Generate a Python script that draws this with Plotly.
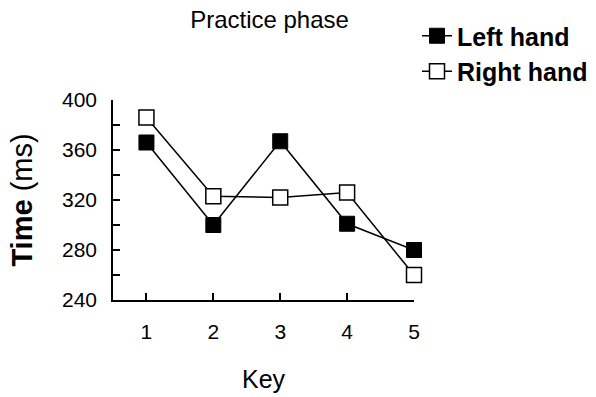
import plotly.graph_objects as go

keys = [1, 2, 3, 4, 5]
left_hand = [366, 300, 367, 301, 280]
right_hand = [386, 323, 322, 326, 260]
y_ticks = [240, 280, 320, 360, 400]

FONT = "Liberation Sans, Arial, sans-serif"

fig = go.Figure()
fig.add_trace(go.Scatter(
    x=keys, y=left_hand, name="<b>Left hand</b>", mode="lines+markers",
    line=dict(color="black", width=1.5),
    marker=dict(symbol="square", size=15, color="black", line=dict(color="black", width=1)),
    cliponaxis=False,
))
fig.add_trace(go.Scatter(
    x=keys, y=right_hand, name="<b>Right hand</b>", mode="lines+markers",
    line=dict(color="black", width=1.5),
    marker=dict(symbol="square", size=15, color="white", line=dict(color="black", width=1.5)),
    cliponaxis=False,
))

fig.update_layout(
    width=596, height=397,
    margin=dict(l=113, r=182, t=100, b=97, autoexpand=False),
    paper_bgcolor="white", plot_bgcolor="white",
    font=dict(family=FONT, color="black", size=21),
    title=dict(text="Practice phase", x=0.52, xanchor="center", xref="paper",
               y=1 - 20/397, yanchor="middle", yref="container",
               font=dict(size=24, family=FONT)),
    showlegend=True,
    legend=dict(x=417/596, xref="container", xanchor="left",
                y=1 - 13/397, yref="container", yanchor="top",
                font=dict(size=25, family=FONT), bgcolor="rgba(0,0,0,0)",
                traceorder="normal", itemsizing="trace", tracegroupgap=0),
    xaxis=dict(range=[0.5, 5], tickvals=keys, ticktext=[str(k) for k in keys],
               showline=True, linecolor="black", linewidth=1.5,
               ticks="inside", ticklen=7, tickwidth=1.5, tickcolor="black",
               showgrid=False, zeroline=False, ticklabelstandoff=12,
               title=dict(text="Key", font=dict(size=25), standoff=29)),
    yaxis=dict(range=[240, 400], tickvals=y_ticks,
               showline=True, linecolor="black", linewidth=1.5,
               ticks="inside", ticklen=7, tickwidth=1.5, tickcolor="black",
               minor=dict(ticks="inside", ticklen=7, tickwidth=1.5, tickcolor="black", dtick=20, tick0=240),
               showgrid=False, zeroline=False, ticklabelstandoff=10,
               title=dict(text="<b>Time</b> (ms)", font=dict(size=29), standoff=21)),
)

fig.write_html("out.html")
